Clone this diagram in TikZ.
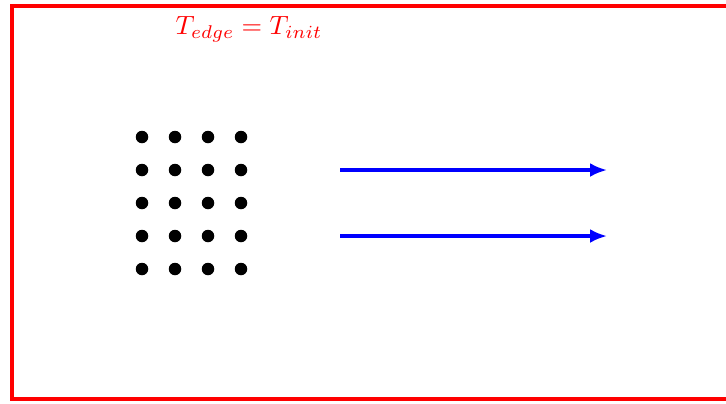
\documentclass[tikz,border=0pt]{standalone}
\usepackage{amsmath}
\usetikzlibrary{arrows.meta,calc,positioning}

\tikzset{
  dot/.style={circle, fill=black, inner sep=0pt, minimum size=12.5bp},
  flow/.style={blue, line width=3.3bp, -{Latex[length=17bp,width=14bp]}}
}

\begin{document}
\begin{tikzpicture}[x=1bp, y=-1bp]
		\useasboundingbox (0,0) rectangle (726,403);
		\draw[red, line width=4.2bp] (12,6) rectangle (760,399);
		\node[red, scale=2.65] (T) at (249,29) {$T_{edge} = T_{init}$};
		% lattice of particles
		\foreach \i in {0,...,3}
			\foreach \j in {0,...,4}
				\node[dot] (d-\i-\j) at ({142+33*\i},{137+33*\j}) {};
		\coordinate (A1) at (340,170);
		\coordinate (B1) at (607,170);
		\coordinate (A2) at (340,236);
		\coordinate (B2) at (607,236);
		\draw[flow] (A1) -- (B1);
		\draw[flow] (A2) -- (B2);
	\end{tikzpicture}
\end{document}
